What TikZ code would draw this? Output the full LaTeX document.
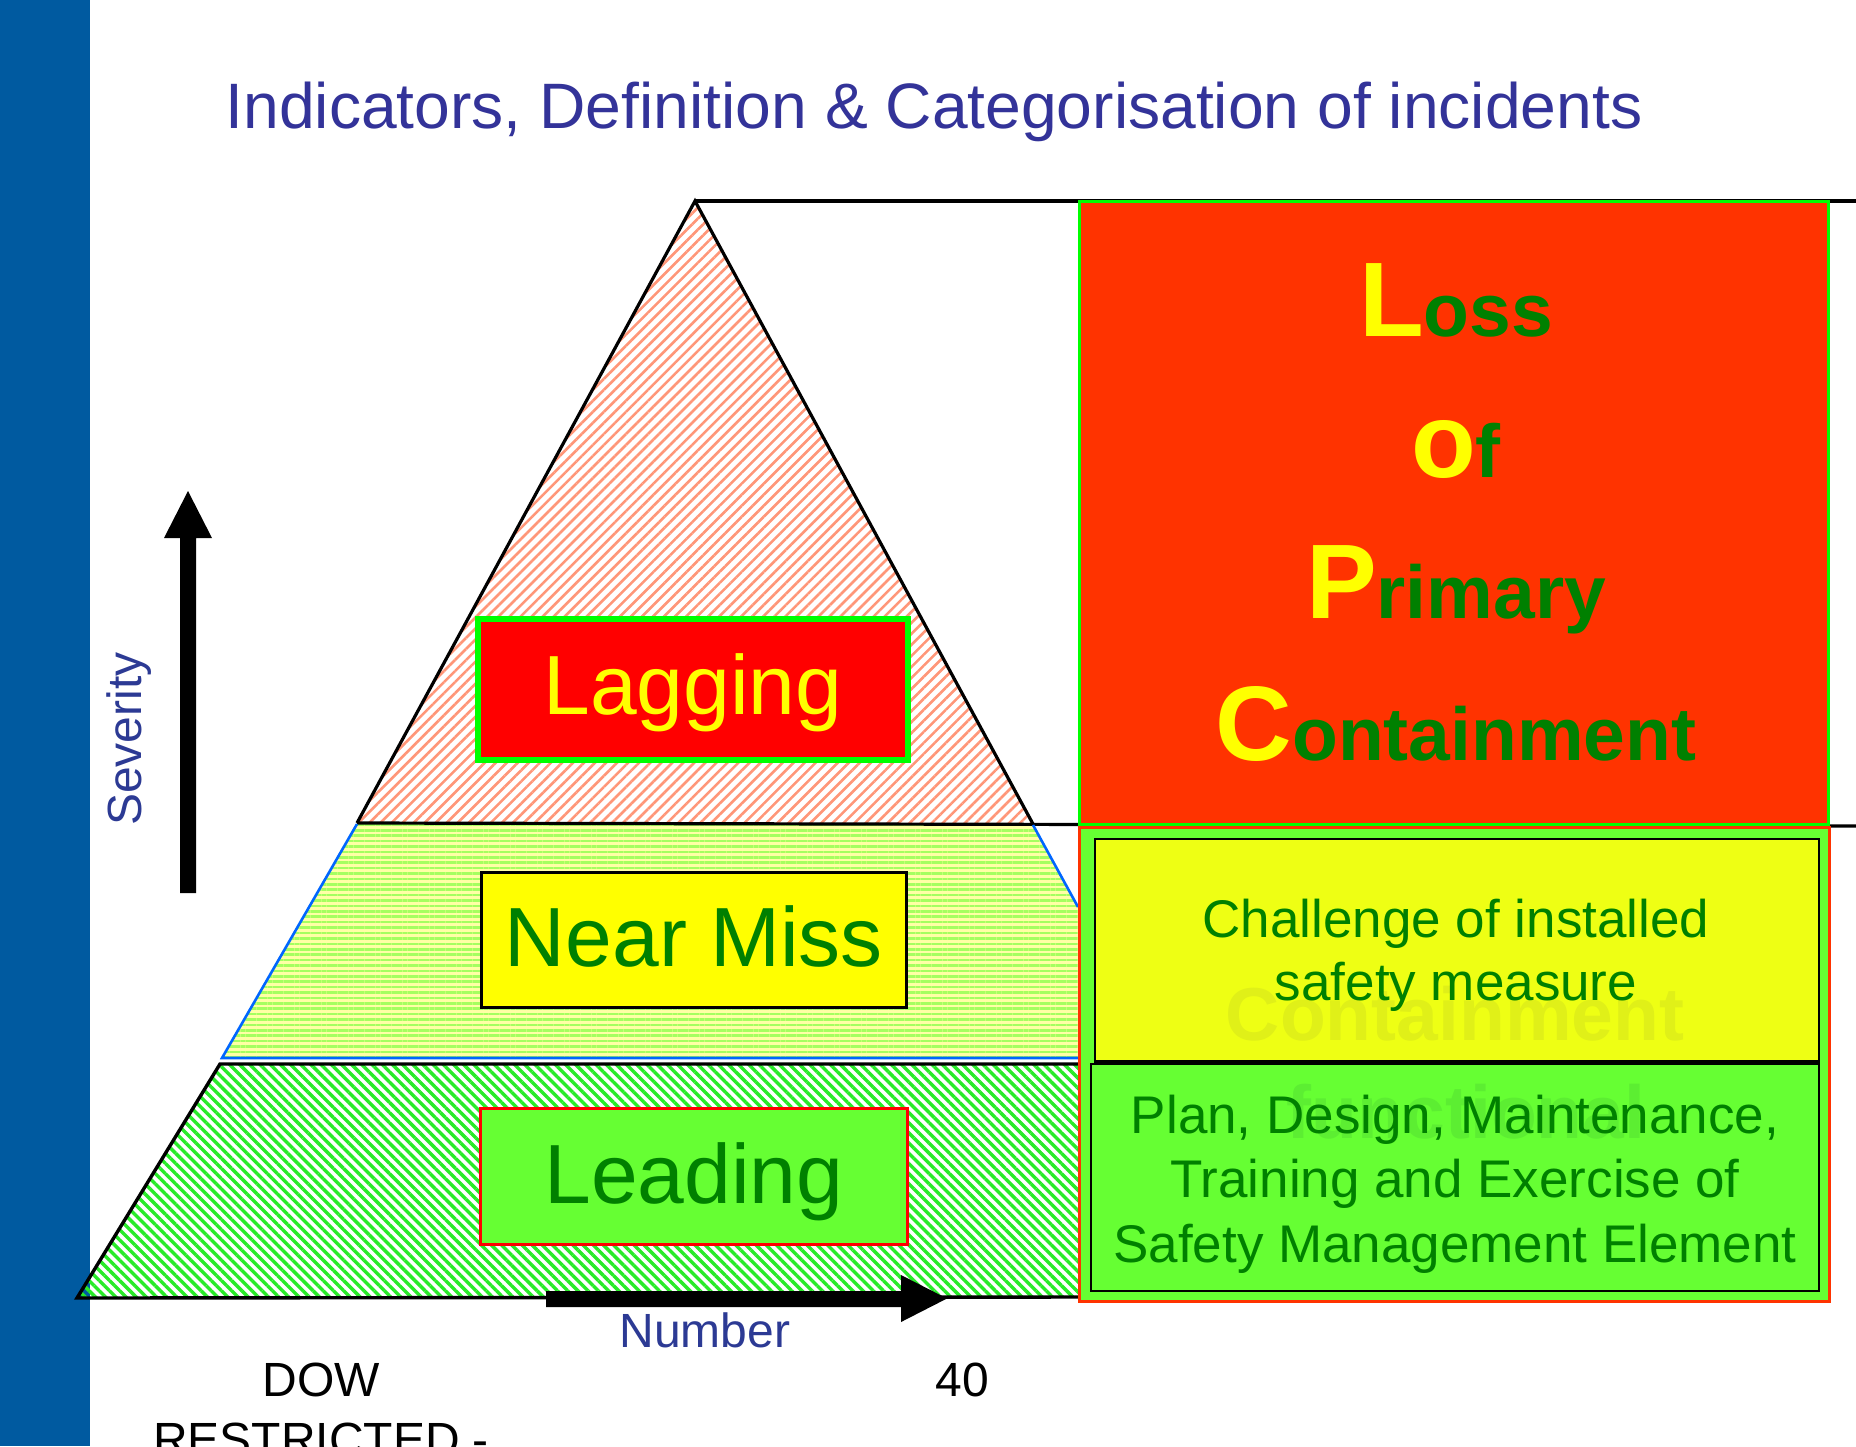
\documentclass[tikz,border=0pt]{standalone}
\usepackage{fontspec}
\setmainfont{Liberation Sans}
\usetikzlibrary{patterns.meta}
\definecolor{barblue}{RGB}{0,90,160}
\definecolor{titleblue}{RGB}{51,51,153}
\definecolor{lblue}{RGB}{44,58,148}
\definecolor{dkgreen}{RGB}{0,128,0}
\definecolor{ltgreen}{RGB}{102,255,51}
\definecolor{brgreen}{RGB}{0,255,0}
\definecolor{orred}{RGB}{255,51,0}
\definecolor{salmon}{RGB}{255,150,120}
\definecolor{hatchgreen}{RGB}{40,235,40}
\definecolor{paleyel}{RGB}{255,255,165}
\definecolor{stripegreen}{RGB}{165,255,95}
\definecolor{edgeblue}{RGB}{0,102,255}
\definecolor{boxyellow}{RGB}{238,255,20}
\definecolor{ghostyel}{RGB}{224,240,24}
\definecolor{ghostgrn}{RGB}{92,238,50}
\definecolor{lopcyel}{RGB}{255,255,0}
\begin{document}
\begin{tikzpicture}[x=0.5pt,y=-0.5pt,
  txt/.style={inner sep=0pt, anchor=base},
  boxnode/.style={rectangle, inner sep=0pt},
  big/.style={font=\fontsize{42}{50}\selectfont},
  mid/.style={font=\fontsize{26.5}{32}\selectfont, text=dkgreen},
  axis/.style={font=\fontsize{24}{29}\selectfont},
  ghost/.style={font=\fontsize{37.5}{45}\selectfont\bfseries}]
\useasboundingbox (0,0) rectangle (1856,1446);
\clip (0,0) rectangle (1856,1446);
\fill[white] (0,0) rectangle (1856,1446);
% left bar
\fill[barblue] (0,0) rectangle (90,1446);

% title
\node[txt, text=titleblue, font=\fontsize{32.1}{39}\selectfont] (title) at (934,128) {Indicators, Definition \& Categorisation of incidents};

% pyramid sections
\path[pattern={Lines[angle=45,distance=3.9pt,line width=1.3pt]}, pattern color=salmon]
  (695,201) -- (357,823) -- (1033,824) -- cycle;
\fill[paleyel] (222,1058) -- (357,823) -- (1033,824) -- (1078,907) -- (1078,1058) -- cycle;
\path[pattern={Lines[angle=0,distance=2.7pt,line width=1.3pt]}, pattern color=stripegreen]
  (222,1058) -- (357,823) -- (1033,824) -- (1078,907) -- (1078,1058) -- cycle;
\path[pattern={Lines[angle=-45,distance=3.6pt,line width=1.7pt]}, pattern color=hatchgreen]
  (77,1298) -- (220,1064) -- (1078,1064) -- (1078,1297) -- cycle;

% pyramid edges
\draw[line width=1.6pt, line join=miter] (357,823) -- (695,201) -- (1033,824);
\draw[line width=2pt] (695,201) -- (1856,201);
\draw[line width=1.6pt] (357,823) -- (1856,826);
\draw[edgeblue, line width=1.3pt] (357,824) -- (222,1058) -- (1078,1058);
\draw[edgeblue, line width=1.3pt] (1033,825) -- (1078,907);
\draw[line width=1.7pt] (1078,1064) -- (220,1064) -- (77,1298) -- (1078,1297);

% pyramid label boxes
\node[boxnode, fill=red, draw=brgreen, line width=3pt, minimum width=215pt, minimum height=70.5pt] (lagbox) at (693,689.5) {};
\node[txt, big, text=lopcyel] (lagtxt) at (693,714) {Lagging};
\node[boxnode, fill=lopcyel, draw=black, line width=1.5pt, minimum width=212.5pt, minimum height=67.5pt] (nmbox) at (694,940) {};
\node[txt, big, text=dkgreen] (nmtxt) at (694,966) {Near Miss};
\node[boxnode, fill=ltgreen, draw=red, line width=1.5pt, minimum width=213.5pt, minimum height=68pt] (ldbox) at (694,1176.5) {};
\node[txt, big, text=dkgreen] (ldtxt) at (694,1203) {Leading};

% LOPC box
\node[boxnode, fill=orred, draw=brgreen, line width=1.5pt, minimum width=374.5pt, minimum height=311.5pt] (lopc) at (1454,513) {};
\node[txt] (lopc1) at (1456,336) {{\fontsize{53}{60}\selectfont\bfseries\color{lopcyel}L}{\fontsize{37.5}{45}\selectfont\bfseries\color{dkgreen}oss}};
\node[txt] (lopc2) at (1456,477) {{\fontsize{53}{60}\selectfont\bfseries\color{lopcyel}o}{\fontsize{37.5}{45}\selectfont\bfseries\color{dkgreen}f}};
\node[txt] (lopc3) at (1456,618) {{\fontsize{53}{60}\selectfont\bfseries\color{lopcyel}P}{\fontsize{37.5}{45}\selectfont\bfseries\color{dkgreen}rimary}};
\node[txt] (lopc4) at (1456,760) {{\fontsize{53}{60}\selectfont\bfseries\color{lopcyel}C}{\fontsize{37.5}{45}\selectfont\bfseries\color{dkgreen}ontainment}};

% lower right block
\node[boxnode, fill=ltgreen, draw=orred, line width=1.5pt, minimum width=375pt, minimum height=237pt] (outer) at (1454.5,1064.5) {};
\node[boxnode, fill=boxyellow, draw=black, line width=1pt, minimum width=362pt, minimum height=111pt] (chbox) at (1457,950) {};
\node[boxnode, fill=ltgreen, draw=black, line width=1pt, minimum width=364pt, minimum height=113.5pt] (plbox) at (1455,1177.5) {};
\draw[line width=1.5pt] (chbox.south west) -- (chbox.south east);

\node[txt, ghost, text=ghostyel] (ghost1) at (1455,1040) {Containment};
\node[txt, ghost, text=ghostgrn] (ghost2) at (1466,1138) {functional};

\node[txt, mid] (ch1) at (1456,937) {Challenge of installed};
\node[txt, mid] (ch2) at (1456,1000) {safety measure};
\node[txt, mid] (pl1) at (1455,1133) {Plan, Design, Maintenance,};
\node[txt, mid] (pl2) at (1455,1197) {Training and Exercise of};
\node[txt, mid] (pl3) at (1455,1262) {Safety Management Element};

% axes arrows
\fill[black] (180,893) -- (180,538) -- (164,538) -- (188,491) -- (212,538) -- (196,538) -- (196,893) -- cycle;
\fill[black] (546,1291) -- (901,1291) -- (901,1275) -- (947,1298.5) -- (901,1322) -- (901,1307) -- (546,1307) -- cycle;
\node[rotate=90, inner sep=0pt, axis, text=lblue] (sev) at (129.5,739) {Severity};
\node[txt, axis, text=lblue] (num) at (705,1347) {Number};

% footer
\node[txt, axis] (dow) at (321,1396) {DOW};
\node[txt, axis] (restr) at (321,1456) {RESTRICTED -};
\node[txt, axis] (forty) at (962,1396) {40};
\end{tikzpicture}
\end{document}
